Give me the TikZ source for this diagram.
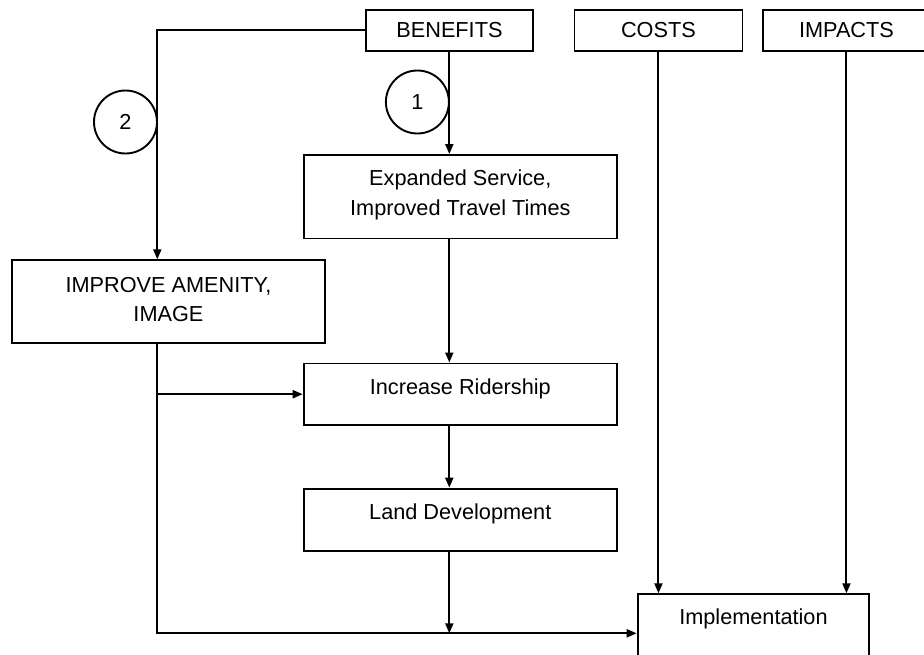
\documentclass[tikz,border=0pt]{standalone}
\usepackage{fontspec}
\setmainfont{Liberation Sans}
\usetikzlibrary{arrows.meta}
\begin{document}
\begin{tikzpicture}[x=1pt,y=-1pt,
  every node/.style={font=\fontsize{21.7pt}{29.5pt}\selectfont},
  box/.style={draw, line width=1.9pt, inner sep=0pt, anchor=north west, align=center},
  circ/.style={draw, circle, line width=1.9pt, minimum size=63pt, inner sep=0pt},
  conn/.style={line width=2pt},
  arr/.style={conn, -{Triangle[length=10pt,width=8pt]}},
]
\useasboundingbox (0,0) rectangle (924,654);

\node[box, minimum width=167pt, minimum height=41pt] (ben) at (365,9) {BENEFITS};
\node[box, minimum width=168pt, minimum height=41pt] (cost) at (573.5,9) {COSTS};
\node[box, minimum width=167pt, minimum height=41pt] (impa) at (762,9) {IMPACTS};
\node[box, minimum width=313.3pt, minimum height=83.5pt, text height=42pt, text depth=4.5pt] (exp) at (302.7,154) {Expanded Service,\\Improved Travel Times};
\node[box, minimum width=313pt, minimum height=82.4pt, text height=44pt, text depth=3.6pt] (amen) at (11,259.3) {IMPROVE AMENITY,\\IMAGE};
\node[box, minimum width=313.3pt, minimum height=61.5pt, text height=9pt, text depth=9pt] (ride) at (302.7,362.5) {Increase Ridership};
\node[box, minimum width=313.3pt, minimum height=62.3pt, text height=9pt, text depth=9pt] (land) at (302.7,487.7) {Land Development};
\node[box, minimum width=231.6pt, minimum height=61.2pt, text height=9pt, text depth=9pt] (impl) at (636.7,593.3) {Implementation};
\node[circ] (c1) at (417.4,102) {1};
\node[circ] (c2) at (125.5,122) {2};

\coordinate (xb) at (449.3,0);
\coordinate (xl) at (157.3,0);
\coordinate (yb) at (0,633.3);
\coordinate (join) at (xb |- yb);

\draw[arr] (ben.west) -| (amen.north -| xl);
\draw[arr] (ben.south -| xb) -- (exp.north -| xb);
\draw[arr] (exp.south -| xb) -- (ride.north -| xb);
\draw[arr] (ride.south -| xb) -- (land.north -| xb);
\draw[arr] (land.south -| xb) -- (join);
\draw[arr] (amen.south -| xl) -- (xl |- yb) -- (impl.west |- yb);
\draw[arr] (xl |- ride.west) -- (ride.west);
\draw[arr] (cost.south) -- (cost.south |- impl.north);
\draw[arr] (impa.south) -- (impa.south |- impl.north);
\end{tikzpicture}
\end{document}
